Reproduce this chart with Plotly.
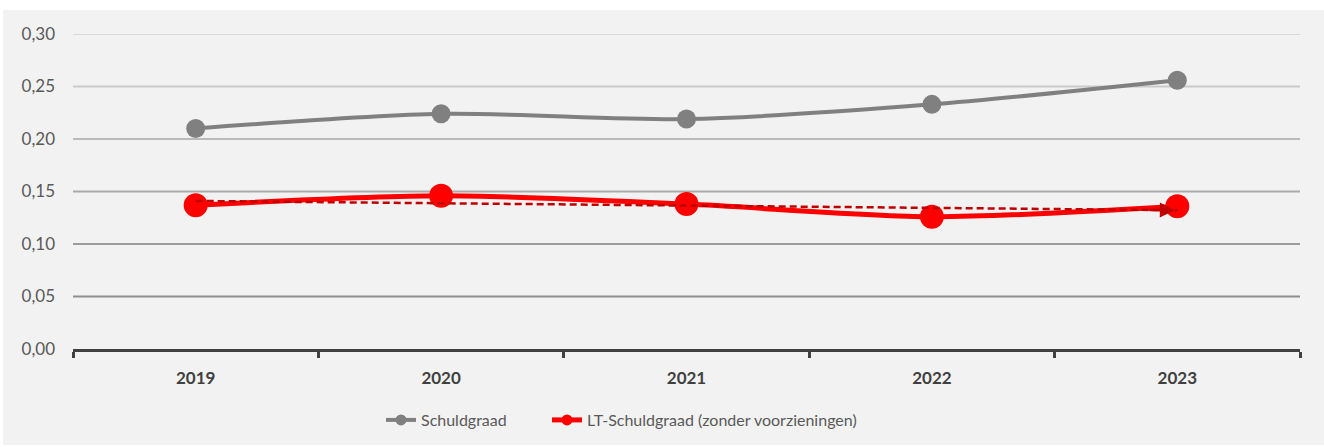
import numpy as np
import plotly.graph_objects as go

# Jaren en kengetallen
years = ["2019", "2020", "2021", "2022", "2023"]
schuldgraad = [0.210, 0.224, 0.219, 0.233, 0.256]
lt_schuldgraad = [0.137, 0.146, 0.138, 0.126, 0.136]

# As-instellingen
y_ticks = [0.00, 0.05, 0.10, 0.15, 0.20, 0.25, 0.30]
grid_colors = ["#404040", "#8e8e8e", "#9c9c9c", "#aaaaaa", "#bababa", "#cacaca", "#d8d8d8"]

FONT = "Lato"
TEXT = "#595959"
GRAY = "#808080"
RED = "#ff0000"
DARKRED = "#c00000"

fig = go.Figure()

fig.add_trace(go.Scatter(
    x=years, y=schuldgraad, name="Schuldgraad", showlegend=False,
    mode="lines+markers",
    line=dict(color=GRAY, width=4, shape="spline", smoothing=0.8),
    marker=dict(color=GRAY, size=19),
))

fig.add_trace(go.Scatter(
    x=years, y=lt_schuldgraad, name="LT-Schuldgraad (zonder voorzieningen)", showlegend=False,
    mode="lines+markers",
    line=dict(color=RED, width=5, shape="spline", smoothing=0.8),
    marker=dict(color=RED, size=24),
))

# Legenda-items met kleinere symbolen, elk in een eigen legenda
legend_items = [("Schuldgraad", GRAY, 4, "legend"),
                ("LT-Schuldgraad (zonder voorzieningen)", RED, 5, "legend2")]
for name, col, w, lg in legend_items:
    fig.add_trace(go.Scatter(
        x=[None], y=[None], name=name, mode="lines+markers", legend=lg,
        line=dict(color=col, width=w), marker=dict(color=col, size=11),
    ))

# Lineaire trendlijn voor de LT-schuldgraad, met pijlpunt aan het einde
idx = np.arange(len(years))
slope, intercept = np.polyfit(idx, lt_schuldgraad, 1)
trend = [intercept + slope * idx[0], intercept + slope * idx[-1]]
fig.add_trace(go.Scatter(
    x=[years[0], years[-1]], y=trend,
    mode="lines", showlegend=False, hoverinfo="skip",
    line=dict(color=DARKRED, width=2.5, dash="7px,4px"),
))
tail = idx[-1] - 0.12
fig.add_annotation(
    x=idx[-1] - 0.01, y=intercept + slope * (idx[-1] - 0.01),
    ax=tail, ay=intercept + slope * tail, axref="x", ayref="y",
    xref="x", yref="y", text="", showarrow=True,
    arrowhead=2, arrowsize=1.2, arrowwidth=2.5, arrowcolor=DARKRED,
)

# Grijze achtergrond van het diagramvlak
fig.add_shape(type="rect", xref="paper", yref="paper",
              x0=-70 / 1227, x1=1.02, y0=-96 / 315, y1=1 + 24 / 315,
              fillcolor="#f2f2f2", line=dict(width=0), layer="below")

# Horizontale rasterlijnen, van donker (onder) naar licht (boven)
for val, col in zip(y_ticks[1:], grid_colors[1:]):
    fig.add_shape(type="line", xref="paper", yref="y", x0=0, x1=1, y0=val, y1=val,
                  line=dict(color=col, width=2), layer="below")

legend_style = dict(orientation="h", xanchor="left", y=-71 / 315, yanchor="middle",
                    font=dict(family=FONT, size=16, color=TEXT),
                    bgcolor="rgba(0,0,0,0)")

fig.update_layout(
    width=1324, height=447,
    margin=dict(l=73, r=24, t=34, b=98, autoexpand=False),
    paper_bgcolor="white", plot_bgcolor="rgba(0,0,0,0)",
    separators=", ",
    font=dict(family=FONT, size=17, color=TEXT),
    showlegend=True,
    legend=dict(x=(381 - 73) / 1227, **legend_style),
    legend2=dict(x=(547 - 73) / 1227, **legend_style),
    hovermode=False,
)

fig.update_xaxes(
    type="category", range=[-0.5, 4.5], tickson="boundaries",
    ticks="outside", ticklen=6, tickwidth=3, tickcolor="#404040",
    showline=True, linecolor="#404040", linewidth=3,
    showgrid=False, zeroline=False, automargin=False,
    tickfont=dict(family=FONT, size=17, color="#404040", weight="bold"),
    ticklabelstandoff=12,
)

fig.update_yaxes(
    range=[0, 0.30], tickvals=y_ticks, tickformat=".2f",
    showgrid=False, zeroline=False, showline=False, ticks="", automargin=False,
    tickfont=dict(family=FONT, size=17, color=TEXT),
    ticklabelstandoff=17,
)

fig.write_html("out.html")
